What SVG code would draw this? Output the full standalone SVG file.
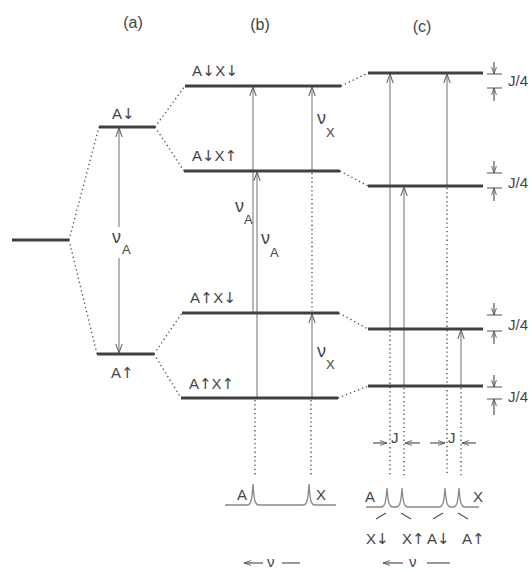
<svg xmlns="http://www.w3.org/2000/svg" width="532" height="572" viewBox="0 0 532 572">
<defs>
<marker id="ah" viewBox="0 0 10 10" refX="10" refY="5" markerWidth="9" markerHeight="9" markerUnits="userSpaceOnUse" orient="auto">
<path d="M0,1.5 L10,5 L0,8.5" fill="none" stroke="#666" stroke-width="1.2"/>
</marker>
<marker id="ah2" viewBox="0 0 10 10" refX="10" refY="5" markerWidth="7" markerHeight="7" markerUnits="userSpaceOnUse" orient="auto">
<path d="M0,1.5 L10,5 L0,8.5" fill="none" stroke="#555" stroke-width="1.2"/>
</marker>
</defs>
<style>
.lvl{stroke:#404040;stroke-width:3;fill:none}
.dot{stroke:#555;stroke-width:1.4;stroke-dasharray:1.3 3;fill:none}
.tr{stroke:#888;stroke-width:1.2;fill:none}
.sp{stroke:#888;stroke-width:1.3;fill:none}
.tk{stroke:#555;stroke-width:1.2;fill:none}
text{font-family:"Liberation Sans","DejaVu Sans",Arial,sans-serif;fill:#444;font-size:15px}
.hd{font-size:16px}
.ar{font-family:"DejaVu Sans",sans-serif;font-size:15px}
.nu{font-size:18px}
.sub{font-size:13px}
</style>
<rect width="532" height="572" fill="#fff"/>

<g id="headers">
<text class="hd" x="133" y="28" text-anchor="middle">(a)</text>
<text class="hd" x="260" y="30" text-anchor="middle">(b)</text>
<text class="hd" x="422" y="32" text-anchor="middle">(c)</text>
</g>

<g id="connectors">
<path class="dot" d="M69,240 L99,127 M69,240 L97,354"/>
<path class="dot" d="M155,127 L185,86 M155,127 L184,171"/>
<path class="dot" d="M154,354 L182,313 M154,354 L181,398"/>
<path class="dot" d="M341,86 L368,73 M340,171 L368,186 M339,313 L368,329 M338,398 L368,386"/>
<line class="tr" x1="119" y1="227" x2="119" y2="128" marker-end="url(#ah)"/>
<line class="tr" x1="119" y1="258" x2="119" y2="353" marker-end="url(#ah)"/>
<line class="tr" x1="253" y1="313" x2="253" y2="87" marker-end="url(#ah)"/>
<line class="tr" x1="257" y1="398" x2="257" y2="172" marker-end="url(#ah)"/>
<line class="tr" x1="312" y1="171" x2="312" y2="87" marker-end="url(#ah)"/>
<line class="tr" x1="312" y1="398" x2="312" y2="314" marker-end="url(#ah)"/>
<path class="dot" d="M312,173 L312,311 M255,400 L255,476 M311,400 L311,476"/>
<line class="tr" x1="390" y1="329" x2="390" y2="74" marker-end="url(#ah)"/>
<line class="tr" x1="404" y1="386" x2="404" y2="187" marker-end="url(#ah)"/>
<line class="tr" x1="447" y1="186" x2="447" y2="74" marker-end="url(#ah)"/>
<line class="tr" x1="461" y1="386" x2="461" y2="330" marker-end="url(#ah)"/>
<path class="dot" d="M447,188 L447,476 M390,331 L390,476 M404,388 L404,476 M461,388 L461,476"/>
<line class="tk" x1="373" y1="443" x2="387" y2="443" marker-end="url(#ah2)"/>
<line class="tk" x1="420" y1="443" x2="405" y2="443" marker-end="url(#ah2)"/>
<line class="tk" x1="430" y1="443" x2="445" y2="443" marker-end="url(#ah2)"/>
<line class="tk" x1="476" y1="443" x2="462" y2="443" marker-end="url(#ah2)"/>
<path class="tk" d="M487,74 H502 M487,88 H502 M487,173 H502 M487,188 H502 M487,315 H502 M487,331 H502 M487,387 H502 M487,399 H502"/>
<line class="tk" x1="494" y1="62" x2="494" y2="74" marker-end="url(#ah2)"/>
<line class="tk" x1="494" y1="101" x2="494" y2="88" marker-end="url(#ah2)"/>
<line class="tk" x1="494" y1="161" x2="494" y2="173" marker-end="url(#ah2)"/>
<line class="tk" x1="494" y1="201" x2="494" y2="188" marker-end="url(#ah2)"/>
<line class="tk" x1="494" y1="303" x2="494" y2="315" marker-end="url(#ah2)"/>
<line class="tk" x1="494" y1="344" x2="494" y2="331" marker-end="url(#ah2)"/>
<line class="tk" x1="494" y1="375" x2="494" y2="387" marker-end="url(#ah2)"/>
<line class="tk" x1="494" y1="415" x2="494" y2="399" marker-end="url(#ah2)"/>
<path class="sp" d="M225,505 L247,505 C251,505 252,500 253,484 C254,500 255,505 259,505 L303,505 C307,505 308,500 309,484 C310,500 311,505 315,505 L336,505"/>
<path class="sp" d="M366,507 L381,507 C385,507 386,502 387,488 C388,502 389,507 393,507 L396,507 C400,507 401,502 402,488 C403,502 404,507 408,507 L439,507 C443,507 444,502 445,488 C446,502 447,507 451,507 L453,507 C457,507 458,502 459,488 C460,502 461,507 465,507 L479,507"/>
<path class="tk" d="M376,519 L386,513 M401,513 L411,519 M433,519 L443,513 M458,513 L468,519" stroke="#777"/>
<line class="tk" x1="263" y1="563" x2="244" y2="563" marker-end="url(#ah2)"/>
<line class="tk" x1="282" y1="563" x2="300" y2="563"/>
<line class="tk" x1="403" y1="563" x2="383" y2="563" marker-end="url(#ah2)"/>
<line class="tk" x1="427" y1="563" x2="450" y2="563"/>
</g>

<g id="level-ground"><line class="lvl" x1="12" y1="240" x2="69" y2="240"/></g>
<g id="level-a-down"><line class="lvl" x1="99" y1="127" x2="155" y2="127"/><text x="112" y="119">A<tspan class="ar">↓</tspan></text></g>
<g id="level-a-up"><line class="lvl" x1="97" y1="354" x2="154" y2="354"/><text x="111" y="378">A<tspan class="ar">↑</tspan></text></g>
<g id="level-b-dd"><line class="lvl" x1="185" y1="86" x2="341" y2="86"/><text x="192" y="76" textLength="46" lengthAdjust="spacing">A<tspan class="ar">↓</tspan>X<tspan class="ar">↓</tspan></text></g>
<g id="level-b-du"><line class="lvl" x1="184" y1="171" x2="340" y2="171"/><text x="192" y="161" textLength="45" lengthAdjust="spacing">A<tspan class="ar">↓</tspan>X<tspan class="ar">↑</tspan></text></g>
<g id="level-b-ud"><line class="lvl" x1="182" y1="313" x2="339" y2="313"/><text x="190" y="303" textLength="46" lengthAdjust="spacing">A<tspan class="ar">↑</tspan>X<tspan class="ar">↓</tspan></text></g>
<g id="level-b-uu"><line class="lvl" x1="181" y1="398" x2="338" y2="398"/><text x="189" y="389" textLength="45" lengthAdjust="spacing">A<tspan class="ar">↑</tspan>X<tspan class="ar">↑</tspan></text></g>
<g id="level-c-dd"><line class="lvl" x1="368" y1="73" x2="483" y2="73"/><text x="508" y="86">J/4</text></g>
<g id="level-c-du"><line class="lvl" x1="368" y1="186" x2="483" y2="186"/><text x="508" y="188">J/4</text></g>
<g id="level-c-ud"><line class="lvl" x1="368" y1="329" x2="483" y2="329"/><text x="508" y="330">J/4</text></g>
<g id="level-c-uu"><line class="lvl" x1="368" y1="386" x2="483" y2="386"/><text x="508" y="402">J/4</text></g>

<g id="labels">
<text class="nu" x="112" y="243">ν</text><text class="sub" x="122" y="254">A</text>
<text class="nu" x="235" y="212">ν</text><text class="sub" x="244" y="224">A</text>
<text class="nu" x="261" y="244">ν</text><text class="sub" x="270" y="257">A</text>
<text class="nu" x="317" y="124">ν</text><text class="sub" x="326" y="137">X</text>
<text class="nu" x="317" y="357">ν</text><text class="sub" x="326" y="369">X</text>
<text x="237" y="500">A</text>
<text x="316" y="500">X</text>
<text x="365" y="502">A</text>
<text x="473" y="502">X</text>
<text x="391" y="443">J</text>
<text x="448" y="443">J</text>
<text x="366" y="544">X<tspan class="ar">↓</tspan></text>
<text x="402" y="544">X<tspan class="ar">↑</tspan></text>
<text x="427" y="544">A<tspan class="ar">↓</tspan></text>
<text x="462" y="544">A<tspan class="ar">↑</tspan></text>
<text x="267" y="567" font-size="16">ν</text>
<text x="409" y="567" font-size="16">ν</text>
</g>
</svg>
